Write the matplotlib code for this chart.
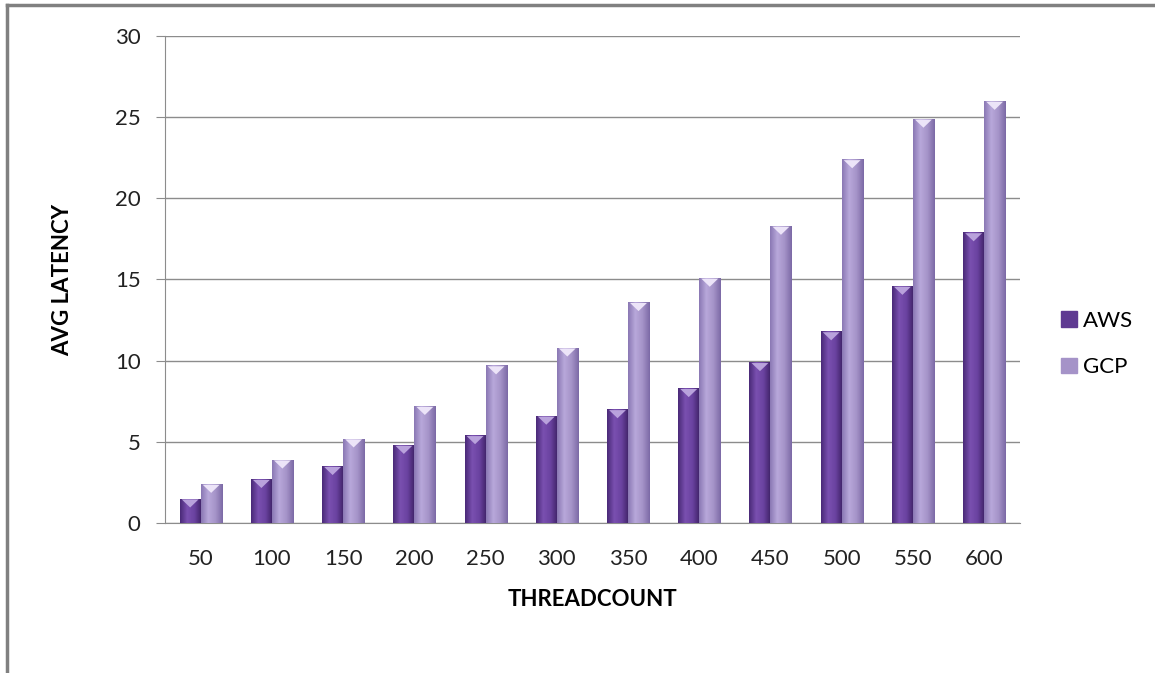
import matplotlib
matplotlib.use('Agg')
import matplotlib.pyplot as plt
import numpy as np
from matplotlib.colors import LinearSegmentedColormap
from matplotlib.patches import Polygon
from matplotlib.lines import Line2D

threads = ['50', '100', '150', '200', '250', '300', '350', '400', '450', '500', '550', '600']
aws = [1.5, 2.7, 3.5, 4.8, 5.4, 6.6, 7.0, 8.3, 9.9, 11.8, 14.6, 17.9]
gcp = [2.4, 3.9, 5.2, 7.2, 9.7, 10.8, 13.6, 15.1, 18.3, 22.4, 24.9, 26.0]

plt.rcParams['font.family'] = ['Lato', 'DejaVu Sans']

fig = plt.figure(figsize=(11.55, 6.73), dpi=100)
ax = fig.add_axes([0.1429, 0.223, 0.740, 0.7235])

x = np.arange(len(threads))
w = 0.295

# cylinder-ish shading for each series
cm_aws = LinearSegmentedColormap.from_list('aws', ['#4a2a78', '#7a50b0', '#6a42a0', '#3e2266'])
cm_gcp = LinearSegmentedColormap.from_list('gcp', ['#8a78b4', '#b8a8da', '#a593c8', '#7c6aa6'])
grad = np.linspace(0, 1, 64).reshape(1, -1)

def draw(xs, vals, cmap, top_col, label):
    bars = ax.bar(xs, vals, w, color=cmap(0.5), label=label, zorder=3)
    for b in bars:
        bx, by = b.get_x(), b.get_height()
        im = ax.imshow(grad, cmap=cmap, aspect='auto', zorder=3,
                       extent=[bx, bx + w, 0, by])
        im.set_clip_path(b)
        tri = Polygon([[bx + w * 0.1, by - 0.05], [bx + w * 0.9, by - 0.05],
                       [bx + w / 2, by - 0.55]], closed=True,
                      facecolor=top_col, edgecolor='none', zorder=4)
        ax.add_patch(tri)
    return bars

draw(x - w / 2, aws, cm_aws, '#b9a2dc', 'AWS')
draw(x + w / 2, gcp, cm_gcp, '#ece4f8', 'GCP')

ax.set_xlim(-0.5, len(threads) - 0.5)
ax.set_ylim(0, 30)
ax.set_yticks(range(0, 31, 5))
ax.set_xticks(x)
ax.set_xticklabels(threads)
ax.yaxis.grid(True, color='#8c8c8c', linewidth=1.0, zorder=0)
ax.set_axisbelow(True)
for s in ['top', 'right']:
    ax.spines[s].set_visible(False)
ax.spines['left'].set_color('#8c8c8c')
ax.spines['bottom'].set_color('#8c8c8c')
ax.tick_params(axis='x', length=0, pad=19, labelsize=16, labelcolor='#222222')
ax.tick_params(axis='y', length=6.5, color='#8c8c8c', pad=11, labelsize=16,
               labelcolor='#222222')

ax.set_xlabel('THREADCOUNT', fontsize=16, fontweight='bold', labelpad=14)
ax.set_ylabel('AVG LATENCY', fontsize=16, fontweight='bold', labelpad=30)

handles = [plt.Rectangle((0, 0), 1, 1, color='#5f3a92'),
           plt.Rectangle((0, 0), 1, 1, color='#a593c8')]
fig.legend(handles, ['AWS', 'GCP'], loc='center left', bbox_to_anchor=(0.919, 0.489),
           frameon=False, fontsize=16, handlelength=0.7, handleheight=0.7,
           labelspacing=1.2, handletextpad=0.25, borderpad=0, borderaxespad=0)

# page frame
fig.add_artist(Line2D([0.006, 1.0], [0.992, 0.992], color='#808080', linewidth=2.5))
fig.add_artist(Line2D([0.006, 0.006], [0.0, 0.992], color='#808080', linewidth=2.5))

fig.savefig('out.png', dpi=100)
